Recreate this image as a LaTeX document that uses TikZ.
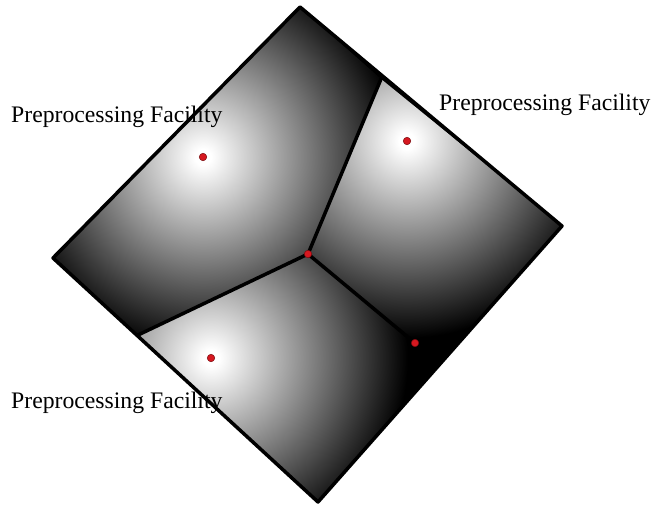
\documentclass[tikz,border=0pt]{standalone}
\usepackage{fontspec}
\setmainfont{Liberation Serif}
\usepackage{tikz}
\usetikzlibrary{positioning}
\definecolor{ink}{RGB}{0,0,0}
\definecolor{facred}{RGB}{214,24,32}
\definecolor{facrim}{RGB}{120,10,14}
\pgfdeclareradialshading{facshade}{\pgfpoint{0bp}{0bp}}{%
  color(0bp)=(white); color(8bp)=(white); color(196bp)=(black);
  color(240bp)=(black)}
\tikzset{
  rim/.style={draw=ink,line width=3.5pt,line join=round},
  cut/.style={draw=ink,line width=3.5pt,line cap=round},
  dot/.style={circle,fill=facred,draw=facrim,line width=0.5pt,
    inner sep=0pt,minimum size=7.5pt},
  glow/.style={inner sep=0pt,outer sep=0pt},
  lbl/.style={font=\fontsize{23.7}{28}\selectfont,text=ink,
    anchor=base west,inner sep=0pt},
}

\begin{document}
\begin{tikzpicture}[x=1pt,y=-1pt]
  \useasboundingbox (0,0) rectangle (656,509);

  % corners of the square
  \coordinate (top) at (300,7);
  \coordinate (rgt) at (562,226);
  \coordinate (bot) at (318,502);
  \coordinate (lft) at (53,258);
  % cell boundaries
  \coordinate (jn) at (308,254);
  \coordinate (ea) at (381,79);
  \coordinate (eb) at (138,335);
  \coordinate (ec) at (415,343);
  \coordinate (ed) at (436,369);
  % facilities
  \coordinate (p1) at (203,157);
  \coordinate (p2) at (407,141);
  \coordinate (p3) at (211,358);

  % shaded cells
  \fill[ink] (top) -- (rgt) -- (bot) -- (lft) -- cycle;
  \begin{scope}
    \clip (top) -- (ea) -- (jn) -- (eb) -- (lft) -- cycle;
    \node[glow] (s1) at (p1) {\pgfuseshading{facshade}};
  \end{scope}
  \begin{scope}
    \clip (ea) -- (rgt) -- (ed) -- (ec) -- (jn) -- cycle;
    \node[glow] (s2) at (p2) {\pgfuseshading{facshade}};
  \end{scope}
  \begin{scope}
    \clip (jn) -- (ec) -- (ed) -- (bot) -- (eb) -- cycle;
    \node[glow] (s3) at (p3) {\pgfuseshading{facshade}};
  \end{scope}

  \draw[rim] (top) -- (rgt) -- (bot) -- (lft) -- cycle;
  \foreach \e in {ea,eb,ec}
    \draw[cut] (jn) -- (\e);

  \node[dot] (f1) at (p1) {};
  \node[dot] (f2) at (p2) {};
  \node[dot] (f3) at (p3) {};
  \node[dot] (fj) at (jn) {};
  \node[dot] (fc) at (ec) {};

  \node[lbl] (l1) at (11,122) {Preprocessing Facility};
  \node[lbl] (l2) at (439,110) {Preprocessing Facility};
  \node[lbl] (l3) at (11,408) {Preprocessing Facility};
\end{tikzpicture}
\end{document}
